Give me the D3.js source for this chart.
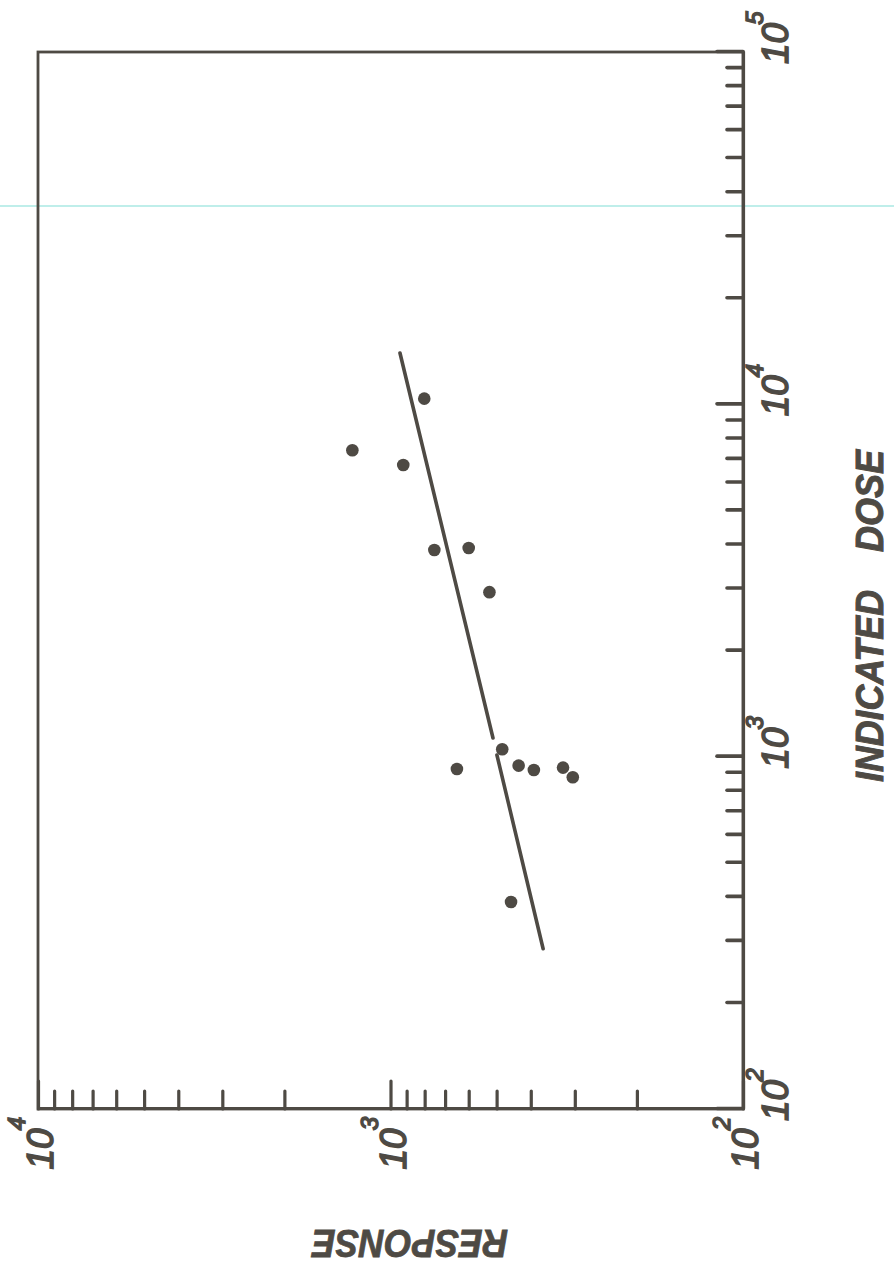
<!DOCTYPE html>
<html>
<head>
<meta charset="utf-8">
<script src="https://cdn.jsdelivr.net/npm/d3@7"></script>
<style>
  html, body { margin: 0; padding: 0; background: #ffffff; }
  svg { display: block; }
</style>
</head>
<body>
<svg id="chart" width="894" height="1268"></svg>
<script>
// ---- data ----
const doseValues     = [7410, 10380, 6730, 3860, 3910, 2930, 1050, 923, 943, 917, 931, 874, 387];
const responseValues = [1283,   802,  920,  751,  600,  524,  482, 648, 433, 392, 324, 304, 455];
// fitted line, drawn in two pieces (gap near dose 10^3)
const fitSegmentDose     = [[13990, 1130], [1011, 285]];
const fitSegmentResponse = [[940, 512],    [499, 369]];
// axis ticks
const doseMajorTicks = [1e2, 1e3, 1e4, 1e5];
const doseMinorTicks = [2,3,4,5,6,7,8,9].flatMap(m => [m*1e2, m*1e3, m*1e4]);
const responseMajorTicks = [1e2, 1e3, 1e4];
const responseMinorTicks = [2,3,4,5,6,7,8,9].flatMap(m => [m*1e2, m*1e3]);
const doseExponents = ["2", "3", "4", "5"];
const responseExponents = ["2", "3", "4"];
const doseTitleWords = ["INDICATED", "DOSE"];
const responseTitle = "RESPONSE";

// ---- layout ----
const ink = "#4e4a44";
const W = 1057, H = 705;           // unrotated plot size
const svg = d3.select("#chart");
svg.append("rect").attr("width", 894).attr("height", 1268).attr("fill", "#ffffff");

// faint cyan scan line across the page
svg.append("line").attr("x1", 0).attr("x2", 894).attr("y1", 206).attr("y2", 206)
  .attr("stroke", "#bfeeea").attr("stroke-width", 2);

const g = svg.append("g").attr("transform", "translate(38,1109) rotate(-90)");

const x = d3.scaleLog().domain([1e2, 1e5]).range([0, W]);
const y = d3.scaleLog().domain([1e2, 1e4]).range([H, 0]);

// frame
g.append("rect").attr("x", 0).attr("y", 0).attr("width", W).attr("height", H)
  .attr("fill", "none").attr("stroke", ink).attr("stroke-width", 2.8);

// dose axis (bottom in the unrotated frame)
const xAxis = g.append("g").attr("transform", `translate(0,${H})`)
  .call(d3.axisBottom(x).tickValues(doseMajorTicks.concat(doseMinorTicks))
        .tickSizeInner(-16).tickSizeOuter(0).tickFormat(""));
xAxis.select(".domain").attr("stroke", ink).attr("stroke-width", 3.2);
xAxis.selectAll(".tick line").attr("stroke", ink).attr("stroke-width", 3.6)
  .attr("stroke-linecap", "round")
  .attr("y2", d => doseMajorTicks.includes(d) ? -26 : -16);

// response axis (left in the unrotated frame)
const yAxis = g.append("g")
  .call(d3.axisLeft(y).tickValues(responseMajorTicks.concat(responseMinorTicks))
        .tickSizeInner(-18).tickSizeOuter(0).tickFormat(""));
yAxis.select(".domain").attr("stroke", ink).attr("stroke-width", 3.2);
yAxis.selectAll(".tick line").attr("stroke", ink).attr("stroke-width", 3.2)
  .attr("stroke-linecap", "round")
  .attr("x2", d => responseMajorTicks.includes(d) ? 28 : 18);

const labelFont = "'Liberation Sans', Arial, sans-serif";

// dose tick labels
doseMajorTicks.forEach((v, i) => {
  const t = g.append("text")
    .attr("x", x(v) - 12).attr("y", H + 45)
    .attr("font-family", labelFont).attr("font-style", "italic")
    .attr("font-size", 37).attr("fill", ink)
    .attr("stroke", ink).attr("stroke-width", 1.6)
    .attr("text-anchor", "start");
  t.append("tspan").text("10");
  t.append("tspan").attr("dy", -25).attr("dx", -2).attr("font-size", 24).text(doseExponents[i]);
});

// response tick labels
responseMajorTicks.forEach((v, i) => {
  const t = g.append("text")
    .attr("x", -8).attr("y", y(v) + 15)
    .attr("font-family", labelFont).attr("font-style", "italic")
    .attr("font-size", 37).attr("fill", ink)
    .attr("stroke", ink).attr("stroke-width", 1.6)
    .attr("text-anchor", "end");
  t.append("tspan").text("10");
  t.append("tspan").attr("dy", -28).attr("dx", -2).attr("font-size", 24).text(responseExponents[i]);
});

// axis titles
g.append("text").attr("x", 327).attr("y", 845)
  .attr("font-family", labelFont).attr("font-weight", "bold").attr("font-style", "italic")
  .attr("font-size", 39).attr("fill", ink).attr("stroke", ink).attr("stroke-width", 1)
  .attr("textLength", 192).attr("lengthAdjust", "spacingAndGlyphs")
  .text(doseTitleWords[0]);
g.append("text").attr("x", 557).attr("y", 845)
  .attr("font-family", labelFont).attr("font-weight", "bold").attr("font-style", "italic")
  .attr("font-size", 39).attr("fill", ink).attr("stroke", ink).attr("stroke-width", 1)
  .attr("textLength", 102).attr("lengthAdjust", "spacingAndGlyphs")
  .text(doseTitleWords[1]);

g.append("text").attr("transform", "translate(-121,372) rotate(-90)")
  .attr("text-anchor", "middle")
  .attr("font-family", labelFont).attr("font-weight", "bold").attr("font-style", "italic")
  .attr("font-size", 38).attr("fill", ink).attr("stroke", ink).attr("stroke-width", 0.8)
  .attr("textLength", 196).attr("lengthAdjust", "spacingAndGlyphs")
  .text(responseTitle);

// fitted line segments
const line = d3.line().x(d => x(d[0])).y(d => y(d[1]));
fitSegmentDose.forEach((seg, i) => {
  const pts = seg.map((dv, j) => [dv, fitSegmentResponse[i][j]]);
  g.append("path").attr("d", line(pts)).attr("fill", "none")
    .attr("stroke", ink).attr("stroke-width", 3.6).attr("stroke-linecap", "round");
});

// data points
g.selectAll("circle.pt").data(doseValues.map((d, i) => [d, responseValues[i]]))
  .enter().append("circle").attr("class", "pt")
  .attr("cx", d => x(d[0])).attr("cy", d => y(d[1])).attr("r", 6.3)
  .attr("fill", ink);
</script>
</body>
</html>
